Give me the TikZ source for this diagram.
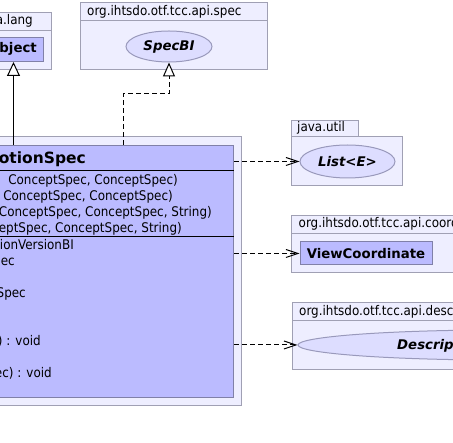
\documentclass[tikz,border=0pt]{standalone}
\usepackage{fontspec}
\setmainfont{DejaVu Sans}
\newfontfamily\condfont{DejaVu Sans Condensed}
\usetikzlibrary{arrows.meta,shapes.geometric}
\definecolor{pkgfill}{HTML}{EEEEFF}
\definecolor{pkgline}{HTML}{A0A0B4}
\definecolor{clsfill}{HTML}{BBBBFF}
\definecolor{clsline}{HTML}{8080A8}
\definecolor{ellfill}{HTML}{DDDDFF}
\definecolor{ellline}{HTML}{9999BB}
\begin{document}
\begin{tikzpicture}[x=1pt,y=-1pt,
  box/.style n args={2}{minimum width=#1, minimum height=#2},
  pkg/.style={draw=pkgline, fill=pkgfill, line width=1pt, inner sep=0pt, anchor=north west},
  cls/.style={draw=clsline, fill=clsfill, line width=1pt, inner sep=0pt, anchor=north west},
  ell/.style={ellipse, draw=ellline, fill=ellfill, line width=1pt, inner sep=0pt,
    font=\bfseries\itshape\fontsize{13.3}{16}\selectfont},
  pkglabel/.style={inner sep=0pt, font=\condfont\fontsize{13.3}{16}\selectfont},
  mtext/.style={inner sep=0pt, anchor=base east, font=\condfont\fontsize{13.3}{16}\selectfont},
  boldtext/.style={inner sep=0pt, font=\bfseries\fontsize{13.3}{16}\selectfont},
  titletext/.style={inner sep=0pt, font=\bfseries\fontsize{15.5}{18}\selectfont},
  divider/.style={draw=black, line width=1pt},
  inh/.style={draw=black, line width=1pt, -{Triangle[fill=white, length=14pt, width=13pt]}},
  real/.style={draw=black, line width=1pt, dash pattern=on 5pt off 3pt, -{Triangle[fill=white, length=14pt, width=12pt]}},
  dep/.style={draw=black, line width=1pt, dash pattern=on 5pt off 3pt, -{Straight Barb[length=12pt, width=8pt]}}
]
\useasboundingbox (0,0) rectangle (453,443);
\fill[white] (0,0) rectangle (453,443);

% java.lang
\node[pkg, box={71pt}{18pt}] (langtab) at (-20,12) {};
\node[pkg, box={71pt}{39pt}] (langbody) at (-20,30) {};
\node[pkglabel, anchor=base east] (langlabel) at (33,25) {a.lang};
\node[cls, box={60pt}{24pt}] (object) at (-17,37) {};
\node[boldtext, anchor=base east] (objlabel) at (37,53) {bject};

% org.ihtsdo.otf.tcc.api.spec
\node[pkg, box={187pt}{18pt}] (spectab) at (80,2) {};
\node[pkg, box={187pt}{49pt}] (specbody) at (80,20) {};
\node[pkglabel, anchor=base west] (speclabel) at (87,15.5) {org.ihtsdo.otf.tcc.api.spec};
\node[ell, minimum width=86pt, minimum height=31pt] (specbi) at (169,46.5) {SpecBI};

% main class
\node[pkg, box={261pt}{269pt}] (mainouter) at (-20,136) {};
\node[cls, box={253pt}{252pt}] (main) at (-20,145) {};
\draw[divider] (main.west |- 0,171) -- (main.east |- 0,171);
\draw[divider] (main.west |- 0,236.5) -- (main.east |- 0,236.5);
\node[titletext, anchor=base east] (title) at (86,164) {otionSpec};
\node[mtext] (c1) at (178,185) {ConceptSpec, ConceptSpec)};
\node[mtext] (c2) at (173,201) {ConceptSpec, ConceptSpec)};
\node[mtext] (c3) at (212,217) {ConceptSpec, ConceptSpec, String)};
\node[mtext] (c4) at (182,233) {eptSpec, ConceptSpec, String)};
\node[mtext] (m1) at (74,250) {ionVersionBI};
\node[mtext] (m2) at (15,266) {ec};
\node[mtext] (m3) at (26,298) {Spec};
\node[mtext] (m4) at (41,346) {) : void};
\node[mtext] (m5) at (52,378) {ec) : void};

% java.util
\node[pkg, box={67pt}{16pt}] (utiltab) at (291,120) {};
\node[pkg, box={111pt}{49pt}] (utilbody) at (291,136) {};
\node[pkglabel, anchor=base west] (utillabel) at (297,131.5) {java.util};
\node[ell, minimum width=95pt, minimum height=33pt] (list) at (347.5,161.5) {List<E>};

% coordinate package
\node[pkg, box={190pt}{18pt}] (coordtab) at (291,215) {};
\node[pkg, box={190pt}{39pt}] (coordbody) at (291,233) {};
\node[pkglabel, anchor=base west] (coordlabel) at (298.5,228) {org.ihtsdo.otf.tcc.api.coord};
\node[cls, box={132pt}{23pt}, font=\bfseries\fontsize{13.3}{16}\selectfont] (viewcoord) at (299.5,241.5) {ViewCoordinate};

% description package
\node[pkg, box={190pt}{17.5pt}] (desctab) at (291.5,302.5) {};
\node[pkg, box={190pt}{49pt}] (descbody) at (291.5,320) {};
\node[pkglabel, anchor=base west] (desclabel) at (299,316) {org.ihtsdo.otf.tcc.api.desc};
\node[ell, minimum width=404pt, minimum height=30pt] (descr) at (500,345) {};
\node[boldtext, font=\bfseries\itshape\fontsize{13.3}{16}\selectfont, anchor=base west] (descrlabel) at (397,350) {Descrip};

% connectors
\draw[inh] (main.north -| object.south) -- (object.south);
\coordinate (bend) at (123,94);
\draw[real] (bend |- main.north) -- (bend) -| (specbi.south);
\draw[dep] (main.east |- list.west) -- (list.west);
\draw[dep] (main.east |- viewcoord.west) -- (viewcoord.west);
\draw[dep] (main.east |- descr.west) -- (descr.west);
\end{tikzpicture}
\end{document}
